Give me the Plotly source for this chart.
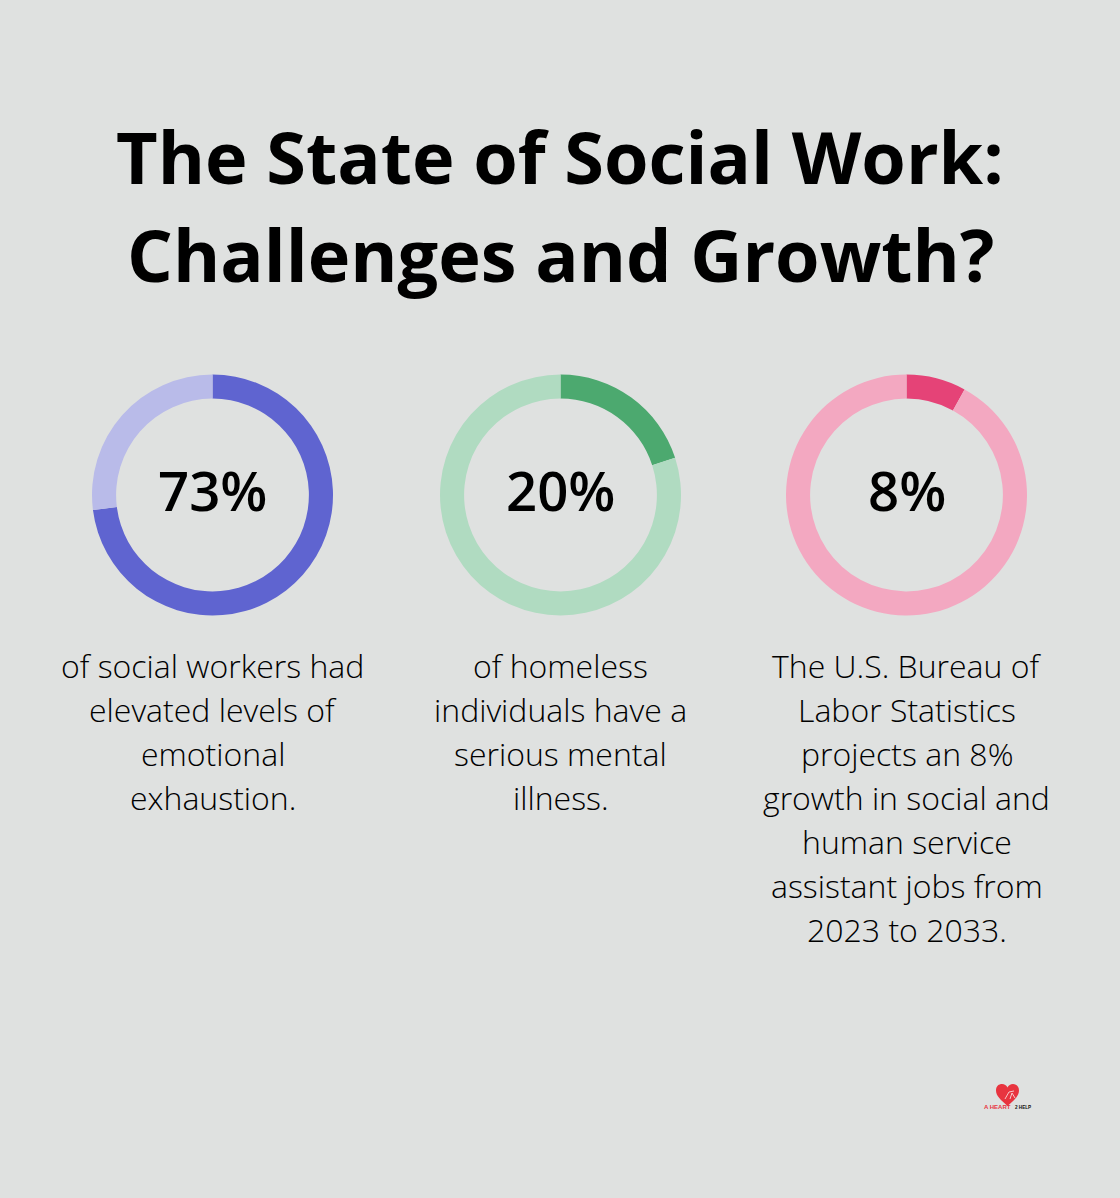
import plotly.graph_objects as go

W, H = 1120, 1198
BG = "#DFE1E0"
FONT = "Open Sans"

title_lines = ["The State of Social Work:", "Challenges and Growth?"]
title_y = [156, 254]

percent_values = [73, 20, 8]
percent_labels = ["73%", "20%", "8%"]
main_colors = ["#5F64D0", "#4CA96F", "#E54377"]
pale_colors = ["#B9BBE9", "#B0DBC1", "#F3A8C1"]
centers_x = [212.5, 560.5, 906.5]
center_y = 495
outer_radius = 120.5
hole_ratio = 0.8

captions = [
    ["of social workers had", "elevated levels of", "emotional", "exhaustion."],
    ["of homeless", "individuals have a", "serious mental", "illness."],
    ["The U.S. Bureau of", "Labor Statistics", "projects an 8%", "growth in social and",
     "human service", "assistant jobs from", "2023 to 2033."],
]
caption_first_y = 665
caption_step = 44


def px(x):
    return x / W


def py(y):
    return 1 - y / H


fig = go.Figure()
annotations = []


def add_text(text, x, y, size, color="#000000", weight=400, family=FONT, anchor="center"):
    annotations.append(dict(
        text=text, x=px(x), y=py(y), xref="paper", yref="paper",
        xanchor=anchor, yanchor="middle", showarrow=False,
        font=dict(family=family, size=size, color=color, weight=weight),
    ))


for i, value in enumerate(percent_values):
    cx = centers_x[i]
    fig.add_trace(go.Pie(
        values=[value, 100 - value],
        labels=["Share", "Remainder"],
        hole=hole_ratio,
        sort=False,
        direction="clockwise",
        rotation=0,
        textinfo="none",
        hoverinfo="skip",
        showlegend=False,
        marker=dict(colors=[main_colors[i], pale_colors[i]], line=dict(width=0)),
        domain=dict(
            x=[px(cx - outer_radius), px(cx + outer_radius)],
            y=[py(center_y + outer_radius), py(center_y - outer_radius)],
        ),
    ))
    add_text(percent_labels[i], cx, 490, 54.5, weight=600)
    for j, line in enumerate(captions[i]):
        add_text(line, cx, caption_first_y + j * caption_step, 32, color="#000000", weight=300)

for line, y in zip(title_lines, title_y):
    add_text(line, 560, y, 72, weight=700)

# small logo: heart drawn as a shape, wordmark as real text
def P(x, y):
    return f"{px(x):.5f},{py(y):.5f}"


heart_path = (
    f"M {P(1007.5, 1106)} "
    f"C {P(1001, 1100)} {P(996, 1096)} {P(996, 1090.5)} "
    f"C {P(996, 1086)} {P(999, 1084)} {P(1002, 1084)} "
    f"C {P(1004.5, 1084)} {P(1006.5, 1085.5)} {P(1007.5, 1087.5)} "
    f"C {P(1008.5, 1085.5)} {P(1010.5, 1084)} {P(1013, 1084)} "
    f"C {P(1016, 1084)} {P(1019, 1086)} {P(1019, 1090.5)} "
    f"C {P(1019, 1096)} {P(1014, 1100)} {P(1007.5, 1106)} Z"
)
figure_path = f"M {P(1005, 1099)} L {P(1009, 1092)} L {P(1014, 1091)} M {P(1010, 1099)} L {P(1012, 1093)} L {P(1015, 1098)}"
shapes = [
    dict(type="path", xref="paper", yref="paper", path=heart_path,
         fillcolor="#E8343F", line=dict(width=0)),
    dict(type="path", xref="paper", yref="paper", path=figure_path,
         line=dict(color="#F6C9CC", width=1)),
]
add_text("A HEART", 1013, 1107, 6, color="#E8343F", weight=700, family="Liberation Sans", anchor="right")
add_text("2 HELP", 1013, 1107, 4.6, color="#111111", weight=700, family="Liberation Sans", anchor="left")

fig.update_layout(
    width=W, height=H,
    margin=dict(l=0, r=0, t=0, b=0),
    paper_bgcolor=BG, plot_bgcolor=BG,
    annotations=annotations,
    shapes=shapes,
)

fig.write_html(
    "out.html",
    config={"displayModeBar": False},
    post_script="document.body.style.margin='0';document.documentElement.style.overflow='hidden';",
)
